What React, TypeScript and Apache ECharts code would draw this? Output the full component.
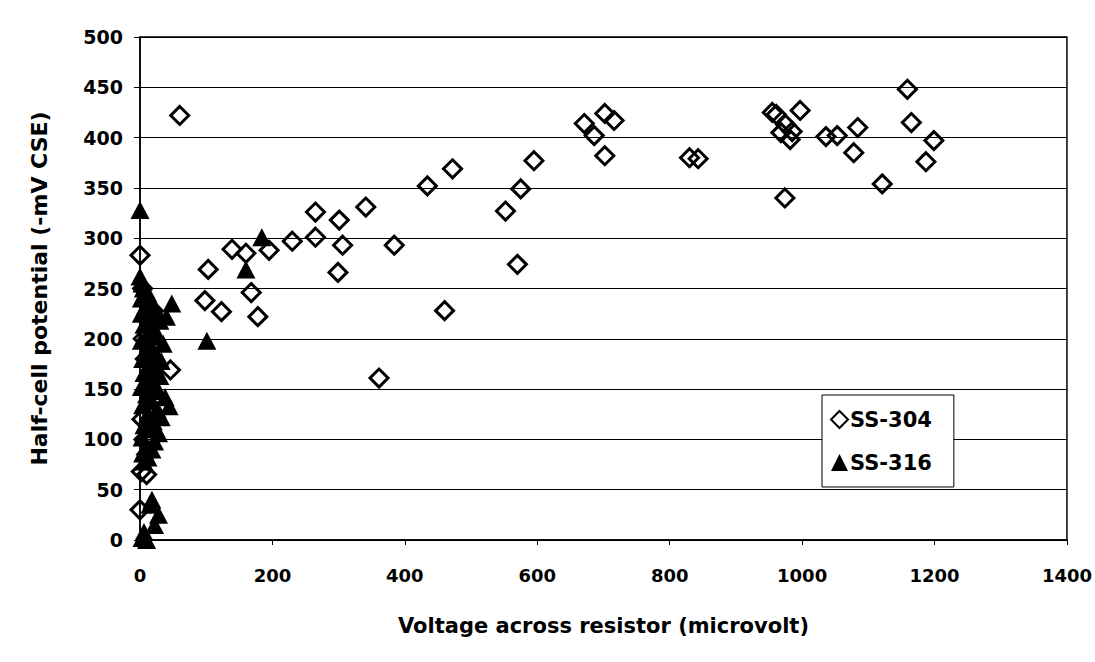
import React, { useEffect, useRef } from "react";
import * as echarts from "echarts";

const xTicks = [0, 200, 400, 600, 800, 1000, 1200, 1400];
const yTicks = [0, 50, 100, 150, 200, 250, 300, 350, 400, 450, 500];

const seriesNames = ["SS-304", "SS-316"];

// SS-304 [voltage (microvolt), half-cell potential (-mV CSE)]
const ss304: number[][] = [
  [60, 422], [0, 283], [103, 269], [299, 266], [168, 246], [98, 238], [123, 227],
  [178, 222], [460, 228], [361, 161], [265, 326], [301, 318], [341, 331], [265, 301],
  [230, 297], [306, 293], [384, 293], [195, 288], [160, 285], [139, 289], [472, 369],
  [434, 352], [595, 377], [575, 349], [552, 327], [570, 274],
  [1159, 448], [1165, 415], [1199, 397], [1187, 376], [1121, 354], [1084, 410],
  [1078, 385], [1036, 401], [1053, 402], [955, 425], [961, 423], [997, 427],
  [975, 413], [968, 405], [985, 406], [982, 398], [843, 379], [830, 380],
  [671, 414], [686, 402], [702, 424], [716, 417], [702, 382], [974, 340],
  [2, 68], [10, 65], [0, 30], [46, 169], [20, 228], [5, 200], [8, 180],
  [12, 150], [3, 120], [6, 100], [10, 85], [4, 250],
];

// SS-316
const ss316: number[][] = [
  [0, 328], [184, 301], [160, 269], [101, 198], [48, 235], [40, 222], [44, 133],
  [0, 262], [3, 255], [5, 250], [12, 245], [2, 240], [18, 235], [8, 232], [25, 228],
  [2, 225], [15, 220], [30, 218], [6, 214], [20, 210], [12, 205], [28, 202], [2, 198],
  [35, 195], [16, 192], [8, 188], [24, 185], [4, 180], [32, 178], [14, 175], [22, 170],
  [6, 166], [30, 163], [12, 158], [20, 155], [2, 152], [28, 148], [10, 145], [38, 142],
  [18, 138], [4, 134], [26, 130], [12, 126], [32, 122], [20, 118], [6, 114], [15, 110],
  [28, 106], [3, 102], [22, 98], [10, 94], [18, 90], [4, 86], [12, 82], [6, 78],
  [15, 35], [22, 15], [3, 2], [10, 0], [28, 25], [18, 40], [6, 8],
];

const diamondPath = "path://M0,-1L1,0L0,1L-1,0Z";
const font = "'DejaVu Sans', 'Liberation Sans', Arial, sans-serif";

export default function App() {
  const ref = useRef<HTMLDivElement>(null);
  useEffect(() => {
    document.body.style.margin = "0";
    if (!ref.current) return;
    const chart = echarts.init(ref.current, null, { renderer: "svg" });
    chart.setOption({
      animation: false,
      backgroundColor: "#fff",
      grid: {
        left: 140, right: 28, top: 37, bottom: 122,
        show: true, borderColor: "#000", borderWidth: 1.5, backgroundColor: "transparent",
      },
      legend: {
        orient: "vertical",
        left: 822,
        top: 395,
        backgroundColor: "#fff",
        borderColor: "#000",
        borderWidth: 1,
        padding: [14, 22, 14, 8],
        itemGap: 22,
        itemWidth: 17,
        itemHeight: 17,
        textStyle: { fontFamily: font, fontWeight: "bold", fontSize: 21, color: "#000", padding: [0, 0, 0, -3] },
        data: [
          { name: seriesNames[0], icon: diamondPath },
          { name: seriesNames[1], icon: "triangle" },
        ],
      },
      xAxis: {
        type: "value",
        min: xTicks[0],
        max: xTicks[xTicks.length - 1],
        interval: 200,
        name: "Voltage across resistor (microvolt)",
        nameLocation: "middle",
        nameGap: 75,
        nameTextStyle: { fontFamily: font, fontWeight: "bold", fontSize: 21, color: "#000" },
        axisLine: { show: true, lineStyle: { color: "#000", width: 1.5 } },
        axisTick: { show: true, length: 5, lineStyle: { color: "#000" } },
        axisLabel: {
          fontFamily: font, fontWeight: "bold", fontSize: 18, color: "#000", margin: 26,
          formatter: (v: number) => String(v),
        },
        splitLine: { show: false },
      },
      yAxis: {
        type: "value",
        min: yTicks[0],
        max: yTicks[yTicks.length - 1],
        interval: 50,
        name: "Half-cell potential (-mV CSE)",
        nameLocation: "middle",
        nameGap: 90,
        nameTextStyle: { fontFamily: font, fontWeight: "bold", fontSize: 22, color: "#000" },
        axisLine: { show: true, lineStyle: { color: "#000", width: 1.5 } },
        axisTick: { show: true, inside: false, length: 6, lineStyle: { color: "#000" } },
        axisLabel: {
          fontFamily: font, fontWeight: "bold", fontSize: 19, color: "#000", margin: 17,
          formatter: (v: number) => String(v),
        },
        splitLine: { show: true, lineStyle: { color: "#000", width: 1.2 } },
      },
      series: [
        {
          name: seriesNames[0],
          type: "scatter",
          data: ss304,
          symbol: diamondPath,
          symbolSize: 18,
          itemStyle: { color: "rgba(255,255,255,0)", borderColor: "#000", borderWidth: 3, opacity: 1 },
          z: 2,
        },
        {
          name: seriesNames[1],
          type: "scatter",
          data: ss316,
          symbol: "triangle",
          symbolSize: [19, 18],
          itemStyle: { color: "#000", opacity: 1 },
          z: 3,
        },
      ],
    });
    return () => chart.dispose();
  }, []);
  return <div ref={ref} style={{ width: 1095, height: 662 }} />;
}
